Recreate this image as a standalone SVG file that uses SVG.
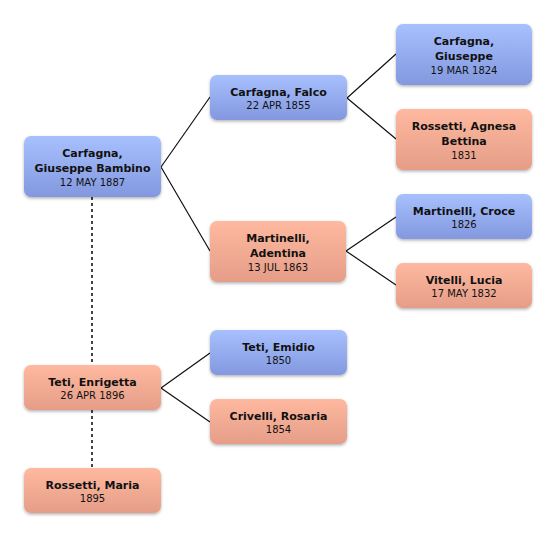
<svg xmlns="http://www.w3.org/2000/svg" width="556" height="537" viewBox="0 0 556 537">
<defs>
<linearGradient id="gb" x1="0" y1="0" x2="0" y2="1"><stop offset="0" stop-color="#a7c0fd"/><stop offset="1" stop-color="#8398df"/></linearGradient>
<linearGradient id="go" x1="0" y1="0" x2="0" y2="1"><stop offset="0" stop-color="#feb9a0"/><stop offset="1" stop-color="#e59d87"/></linearGradient>
<filter id="sh" x="-10%" y="-20%" width="120%" height="150%"><feDropShadow dx="0" dy="1.5" stdDeviation="1.6" flood-color="#000" flood-opacity="0.3"/></filter>
</defs>
<style>
.b{fill:url(#gb);filter:url(#sh)}
.o{fill:url(#go);filter:url(#sh)}
.n{font-family:"DejaVu Sans",sans-serif;font-size:11px;font-weight:bold;fill:#111;text-anchor:middle}
.d{font-family:"DejaVu Sans",sans-serif;font-size:10px;fill:#111;text-anchor:middle}
.c{stroke:#111;stroke-width:1.2;fill:none}
.dash{stroke:#444;stroke-width:2;stroke-dasharray:3 3;fill:none}
</style>
<rect width="556" height="537" fill="#fff"/>
<g id="connectors">
<path class="dash" d="M92 197V365M92 410V468"/>
<path class="c" d="M161 167L210 97M161 167L210 251"/>
<path class="c" d="M347 98L396 54M347 98L396 139"/>
<path class="c" d="M346 251L396 217M346 251L396 285"/>
<path class="c" d="M161 388L210 353M161 388L210 422"/>
</g>
<g id="n1"><rect class="b" x="24" y="136" width="137" height="61" rx="7"/><text class="n" x="92.5" y="157">Carfagna,</text><text class="n" x="92.5" y="172">Giuseppe Bambino</text><text class="d" x="92.5" y="186">12 MAY 1887</text></g>
<g id="n2"><rect class="b" x="210" y="75" width="137" height="45" rx="7"/><text class="n" x="278.5" y="96">Carfagna, Falco</text><text class="d" x="278.5" y="109">22 APR 1855</text></g>
<g id="n3"><rect class="o" x="210" y="221" width="136" height="61" rx="7"/><text class="n" x="278" y="242">Martinelli,</text><text class="n" x="278" y="257">Adentina</text><text class="d" x="278" y="271">13 JUL 1863</text></g>
<g id="n4"><rect class="b" x="396" y="24" width="136" height="61" rx="7"/><text class="n" x="464" y="45">Carfagna,</text><text class="n" x="464" y="60">Giuseppe</text><text class="d" x="464" y="74">19 MAR 1824</text></g>
<g id="n5"><rect class="o" x="396" y="109" width="136" height="61" rx="7"/><text class="n" x="464" y="130">Rossetti, Agnesa</text><text class="n" x="464" y="145">Bettina</text><text class="d" x="464" y="159">1831</text></g>
<g id="n6"><rect class="b" x="396" y="194" width="136" height="45" rx="7"/><text class="n" x="464" y="215">Martinelli, Croce</text><text class="d" x="464" y="228">1826</text></g>
<g id="n7"><rect class="o" x="396" y="263" width="136" height="45" rx="7"/><text class="n" x="464" y="284">Vitelli, Lucia</text><text class="d" x="464" y="297">17 MAY 1832</text></g>
<g id="n8"><rect class="o" x="24" y="365" width="137" height="45" rx="7"/><text class="n" x="92.5" y="386">Teti, Enrigetta</text><text class="d" x="92.5" y="399">26 APR 1896</text></g>
<g id="n9"><rect class="o" x="24" y="468" width="137" height="45" rx="7"/><text class="n" x="92.5" y="489">Rossetti, Maria</text><text class="d" x="92.5" y="502">1895</text></g>
<g id="n10"><rect class="b" x="210" y="330" width="137" height="45" rx="7"/><text class="n" x="278.5" y="351">Teti, Emidio</text><text class="d" x="278.5" y="364">1850</text></g>
<g id="n11"><rect class="o" x="210" y="399" width="137" height="45" rx="7"/><text class="n" x="278.5" y="420">Crivelli, Rosaria</text><text class="d" x="278.5" y="433">1854</text></g>
</svg>
